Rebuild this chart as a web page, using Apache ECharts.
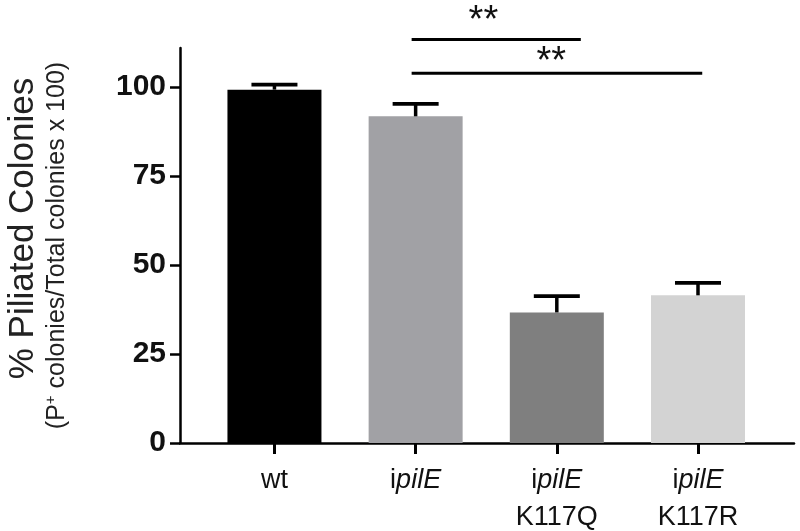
<!DOCTYPE html>
<html><head><meta charset="utf-8">
<script src="https://cdn.jsdelivr.net/npm/echarts@6/dist/echarts.min.js"></script>
<style>html,body{margin:0;padding:0;background:#fff}#c{width:800px;height:531px}</style>
</head><body><div id="c"></div>
<script>
// ---- data ----
const categories = ['wt', 'ipilE', 'ipilE K117Q', 'ipilE K117R'];
const labelPrefix = ['wt', 'i', 'i', 'i'];
const labelItalic = ['', 'pilE', 'pilE', 'pilE'];
const labelSecond = ['', '', 'K117Q', 'K117R'];
const means = [99.3, 91.8, 36.7, 41.5];
const errors = [1.4, 3.5, 4.6, 3.5];
const barColors = ['#000000', '#a1a1a5', '#7f7f7f', '#d3d3d3'];
const yTicks = [0, 25, 50, 75, 100];
// significance annotations (category positions 1..4, y in % units)
const sigFrom = [2, 2];
const sigTo = [3.17, 4.03];
const sigLineY = [113.4, 103.9];
const sigTextX = [2.48, 2.96];
const sigTextY = [121, 109.5];
const sigText = ['**', '**'];

const FONT = 'Liberation Sans, Arial, Helvetica, sans-serif';
const xPos = categories.map((c, i) => i + 1);
const STAR_SIZE = 38;

const chart = echarts.init(document.getElementById('c'), null, {renderer: 'canvas'});

const option = {
  animation: false,
  backgroundColor: '#ffffff',
  grid: {left: 180, right: 6, top: 48, bottom: 88, containLabel: false, outerBoundsMode: 'none'},
  xAxis: {
    type: 'value',
    min: 0.331, max: 4.68,
    splitLine: {show: false},
    axisLine: {show: true, onZero: false, lineStyle: {color: '#000', width: 2.5}},
    axisTick: {show: true, customValues: xPos, length: 11, lineStyle: {color: '#000', width: 3}},
    axisLabel: {
      show: true,
      customValues: xPos,
      margin: 19,
      formatter: function (v) {
        const i = Math.round(v) - 1;
        let s = '{n|' + labelPrefix[i] + '}';
        if (labelItalic[i]) s += '{it|' + labelItalic[i] + '}';
        if (labelSecond[i]) s += '\n{n|' + labelSecond[i] + '}';
        return s;
      },
      rich: {
        n: {fontSize: 27, fontFamily: FONT, color: '#111', lineHeight: 37},
        it: {fontSize: 27, fontFamily: FONT, color: '#111', lineHeight: 37, fontStyle: 'italic'}
      }
    }
  },
  yAxis: {
    type: 'value',
    min: 0, max: 111,
    splitLine: {show: false},
    axisLine: {show: true, onZero: false, lineStyle: {color: '#000', width: 2.5}},
    axisTick: {show: true, customValues: yTicks, length: 10, lineStyle: {color: '#000', width: 2.5}},
    axisLabel: {
      customValues: yTicks,
      margin: 14,
      fontSize: 30, fontWeight: 'bold', fontFamily: FONT, color: '#111'
    },
    name: '{a|% Piliated Colonies}\n{b|(P}{s|+}{b| colonies/Total colonies x 100)}',
    nameLocation: 'middle',
    nameRotate: 90,
    nameGap: 109,
    nameTextStyle: {
      rich: {
        a: {fontSize: 35, fontFamily: FONT, color: '#222', lineHeight: 40, padding: [0, 0, 0, 34]},
        b: {fontSize: 25, fontFamily: FONT, color: '#222', lineHeight: 28},
        s: {fontSize: 15, fontFamily: FONT, color: '#222', lineHeight: 28, verticalAlign: 'top'}
      }
    }
  },
  series: [
    {
      type: 'bar',
      barWidth: 94,
      data: means.map((v, i) => ({value: [xPos[i], v], itemStyle: {color: barColors[i]}})),
      z: 2
    },
    {
      type: 'custom',
      z: 3,
      clip: false,
      data: means.map((v, i) => [xPos[i], v, errors[i]]),
      renderItem: function (params, api) {
        const x = api.value(0), y = api.value(1), e = api.value(2);
        const base = api.coord([x, y]);
        const top = api.coord([x, y + e]);
        const hw = 23;
        return {
          type: 'group',
          children: [
            {type: 'line', shape: {x1: base[0], y1: base[1], x2: top[0], y2: top[1]}, style: {stroke: '#000', lineWidth: 3.5}},
            {type: 'line', shape: {x1: top[0] - hw, y1: top[1], x2: top[0] + hw, y2: top[1]}, style: {stroke: '#000', lineWidth: 3.8}}
          ]
        };
      }
    },
    {
      type: 'custom',
      z: 3,
      clip: false,
      data: sigFrom.map((f, i) => [f, sigTo[i], sigLineY[i]]),
      renderItem: function (params, api) {
        const p1 = api.coord([api.value(0), api.value(2)]);
        const p2 = api.coord([api.value(1), api.value(2)]);
        return {type: 'line', shape: {x1: p1[0] - 4, y1: p1[1], x2: p2[0], y2: p2[1]}, style: {stroke: '#000', lineWidth: 3}};
      }
    },
    {
      type: 'custom',
      z: 3,
      clip: false,
      data: sigTextX.map((x, i) => [x, sigTextY[i], i]),
      renderItem: function (params, api) {
        const p = api.coord([api.value(0), api.value(1)]);
        return {
          type: 'text',
          style: {
            x: p[0], y: p[1] + STAR_SIZE * 0.24, text: sigText[api.value(2)],
            align: 'center', verticalAlign: 'middle',
            font: STAR_SIZE + 'px ' + FONT, fill: '#111'
          }
        };
      }
    }
  ]
};
chart.setOption(option);
</script>
</body></html>
